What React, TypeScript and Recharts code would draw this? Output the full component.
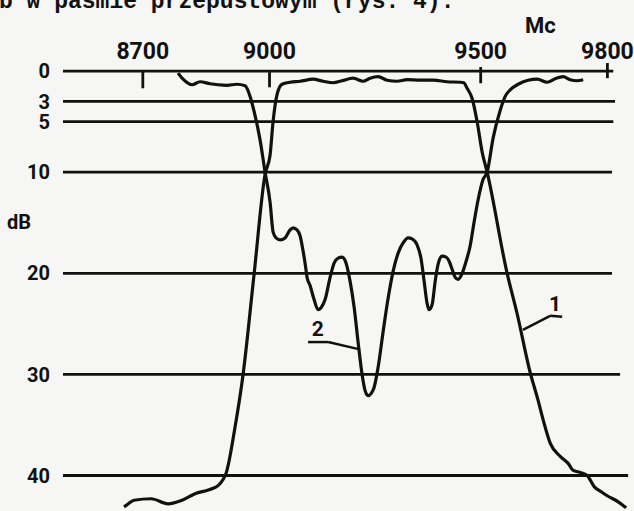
import React from 'react';
import { LineChart, Line, XAxis, YAxis, ReferenceLine, ReferenceDot } from 'recharts';

// Frequency axis (Mc) and attenuation levels (dB)
const freqTicks = [8700, 9000, 9500, 9800];
const dbTicks = [0, 3, 5, 10, 20, 30, 40];
const gridStart = 8511;
const gridEnds = [9814, 9818, 9814, 9811, 9811, 9830, 9849];
const tickMarkTop = [-0.1, 0.1, -0.4, -0.8];
const tickMarkBottom = [1.7, 1.6, 1.2, 0.7];

// Curve 1 – transmission
const curve1Freq = [
  8655.5, 8662.6, 8679, 8719.5, 8759.7, 8792.9, 8823.7, 8856.8, 8878.2, 8890, 8897,
  8918.4, 8937.4, 8963.4, 8989.5, 9001.3, 9008.4, 9017.9, 9029.7, 9048.7,
  9072.4, 9103.2, 9126.8, 9150.5, 9171.8, 9197.9, 9221.6, 9238.2, 9257.1, 9278.4,
  9302.1, 9325.8, 9356.6, 9387.4, 9420.5, 9451.3, 9460, 9467.9, 9479.7, 9491.6,
  9503.4, 9515.3, 9562.6, 9586.3, 9617.1, 9636.1, 9647.9, 9664.5, 9688.2, 9707.1,
  9719, 9735.5, 9752.1, 9768.7, 9785.3, 9799.5, 9825.5, 9844.5,
];
const curve1Db = [
  43.1, 42.9, 42.45, 42.3, 42.8, 42.45, 41.8, 41.4, 41.0, 40.4, 39.8,
  35.2, 30.0, 20.1, 10.2, 8.3, 5.0, 2.3, 1.3, 1.1,
  1.0, 0.8, 1.0, 1.15, 0.95, 0.7, 1.0, 0.7, 0.55, 0.9,
  1.0, 0.85, 0.9, 0.9, 1.05, 1.1, 1.15, 1.7, 2.7, 5.0,
  8.0, 10.0, 20.0, 24.0, 29.8, 32.6, 34.5, 36.8, 38.1, 38.8,
  39.5, 39.7, 40.0, 41.1, 41.6, 42.0, 42.6, 43.2,
];

// Curve 2 – reflection
const curve2Freq = [
  8783.4, 8795.3, 8816.6, 8835.5, 8859.2, 8878.2, 8899.5, 8923.1, 8942.1, 8954,
  8965.8, 8977.6, 8989.5, 9001.3, 9008.4, 9015.5, 9025, 9036.8, 9048.7, 9055.8,
  9065.2, 9072.4, 9079.5, 9084.2, 9088.9, 9096, 9105.5, 9115, 9122, 9131.6,
  9143.4, 9152.9, 9162.4, 9171.8, 9181.3, 9190.8, 9200.2, 9209.7, 9219.2, 9226.3,
  9233.4, 9240.5, 9247.6, 9257.1, 9268.9, 9280.7, 9292.6, 9304.5, 9316.3, 9328.2,
  9337.6, 9349.5, 9359, 9366.1, 9373.2, 9377.9, 9385, 9392.2, 9399.2, 9408.7,
  9418.2, 9425.3, 9432.4, 9439.5, 9446.6, 9456.1, 9465.5, 9475, 9484.5, 9494,
  9505.8, 9515.3, 9529.5, 9546.1, 9558, 9569.8, 9588.7, 9612.4, 9633.7, 9657.4,
  9676.3, 9695.3, 9711.9, 9728.4, 9742.6,
];
const curve2Db = [
  0.2, 0.8, 1.35, 1.05, 1.25, 1.35, 1.4, 1.3, 1.45, 2.5,
  4.4, 6.8, 10.0, 12.96, 15.9, 16.5, 16.7, 16.5, 15.7, 15.5,
  15.7, 16.3, 17.8, 19.0, 20.4, 21.2, 22.6, 23.6, 23.4, 22.6,
  20.4, 19.0, 18.5, 18.4, 19.0, 20.8, 23.3, 26.8, 30.0, 31.6,
  32.1, 31.9, 31.3, 29.3, 25.8, 22.5, 19.8, 18.0, 17.0, 16.5,
  16.6, 17.2, 18.6, 20.8, 23.0, 23.6, 23.1, 20.8, 19.1, 18.3,
  18.4, 18.8, 19.6, 20.4, 20.6, 20.0, 18.8, 17.3, 14.9, 12.7,
  10.7, 10.0, 6.6, 3.9, 2.5, 1.85, 1.3, 0.9, 0.8, 1.1,
  0.75, 0.55, 0.85, 0.95, 0.85,
];

// Curve labels and leader lines
const curveLabels = ['1', '2'];
const labelFreq = [9676, 9114];
const labelDb = [23.0, 25.5];
const leader1Freq = [9600, 9664.5, 9692.9];
const leader1Db = [25.6, 24.2, 24.3];
const leader2Freq = [9091.3, 9138.7, 9211];
const leader2Db = [26.8, 26.8, 27.5];

const curve1 = curve1Freq.map((f, i) => ({ f, db: curve1Db[i] }));
const curve2 = curve2Freq.map((f, i) => ({ f, db: curve2Db[i] }));
const leaders = [
  leader1Freq.map((f, i) => ({ x: f, y: leader1Db[i] })),
  leader2Freq.map((f, i) => ({ x: f, y: leader2Db[i] })),
];

const INK = '#111111';
const FONT = 'Roboto, "DejaVu Sans", sans-serif';

export default function App() {
  return (
    <div
      style={{
        position: 'absolute',
        left: 0,
        top: 0,
        width: 634,
        height: 511,
        overflow: 'hidden',
        background: '#f6f6f4',
      }}
    >
      <div
        style={{
          position: 'absolute',
          left: -1,
          top: -9,
          fontFamily: '"Liberation Mono", "DejaVu Sans Mono", monospace',
          fontWeight: 700,
          fontSize: 23,
          lineHeight: '23px',
          color: INK,
          whiteSpace: 'pre',
        }}
      >
        b w paśmie przepustowym (rys. 4).
      </div>
      <div
        style={{
          position: 'absolute',
          left: 525,
          top: 14,
          fontFamily: FONT,
          fontWeight: 700,
          fontSize: 22,
          lineHeight: '24px',
          color: INK,
        }}
      >
        Mc
      </div>
      <div
        style={{
          position: 'absolute',
          left: 7,
          top: 210,
          fontFamily: FONT,
          fontWeight: 700,
          fontSize: 20,
          lineHeight: '24px',
          color: INK,
        }}
      >
        dB
      </div>
      <LineChart
        width={634}
        height={520}
        margin={{ top: 0, right: 0, bottom: 0, left: 0 }}
        style={{ position: 'absolute', left: 0, top: 0 }}
      >
        <XAxis
          dataKey="f"
          type="number"
          orientation="top"
          domain={[8511, 9863]}
          ticks={freqTicks}
          interval={0}
          height={60}
          axisLine={false}
          tickLine={false}
          tickSize={0}
          tickMargin={1}
          allowDataOverflow
          tick={{ fill: INK, fontSize: 23, fontWeight: 700, fontFamily: FONT }}
        />
        <YAxis
          type="number"
          domain={[-1.1, 44.4]}
          reversed
          ticks={dbTicks}
          interval={0}
          width={63}
          axisLine={false}
          tickLine={false}
          tickSize={0}
          tickMargin={13}
          allowDataOverflow
          tick={{ fill: INK, fontSize: 20, fontWeight: 700, fontFamily: FONT }}
        />
        {dbTicks.map((v, i) => (
          <ReferenceLine
            key={'g' + v}
            segment={[
              { x: gridStart, y: v },
              { x: gridEnds[i], y: v },
            ]}
            stroke={INK}
            strokeWidth={2.8}
            ifOverflow="visible"
          />
        ))}
        {freqTicks.map((f, i) => (
          <ReferenceLine
            key={'t' + f}
            segment={[
              { x: f, y: tickMarkTop[i] },
              { x: f, y: tickMarkBottom[i] },
            ]}
            stroke={INK}
            strokeWidth={2.8}
            ifOverflow="visible"
          />
        ))}
        {leaders.map((pts, li) =>
          pts.slice(1).map((p, i) => (
            <ReferenceLine
              key={'l' + li + '-' + i}
              segment={[pts[i], p]}
              stroke={INK}
              strokeWidth={2.5}
              ifOverflow="visible"
            />
          ))
        )}
        <Line
          data={curve1}
          dataKey="db"
          type="monotone"
          stroke={INK}
          strokeWidth={3.2}
          dot={false}
          activeDot={false}
          isAnimationActive={false}
        />
        <Line
          data={curve2}
          dataKey="db"
          type="monotone"
          stroke={INK}
          strokeWidth={3.2}
          dot={false}
          activeDot={false}
          isAnimationActive={false}
        />
        {curveLabels.map((t, i) => (
          <ReferenceDot
            key={'c' + t}
            x={labelFreq[i]}
            y={labelDb[i]}
            r={0}
            fill="none"
            stroke="none"
            ifOverflow="visible"
            label={{
              value: t,
              position: 'center',
              fill: INK,
              fontSize: 21,
              fontWeight: 700,
              fontFamily: FONT,
            }}
          />
        ))}
      </LineChart>
    </div>
  );
}
